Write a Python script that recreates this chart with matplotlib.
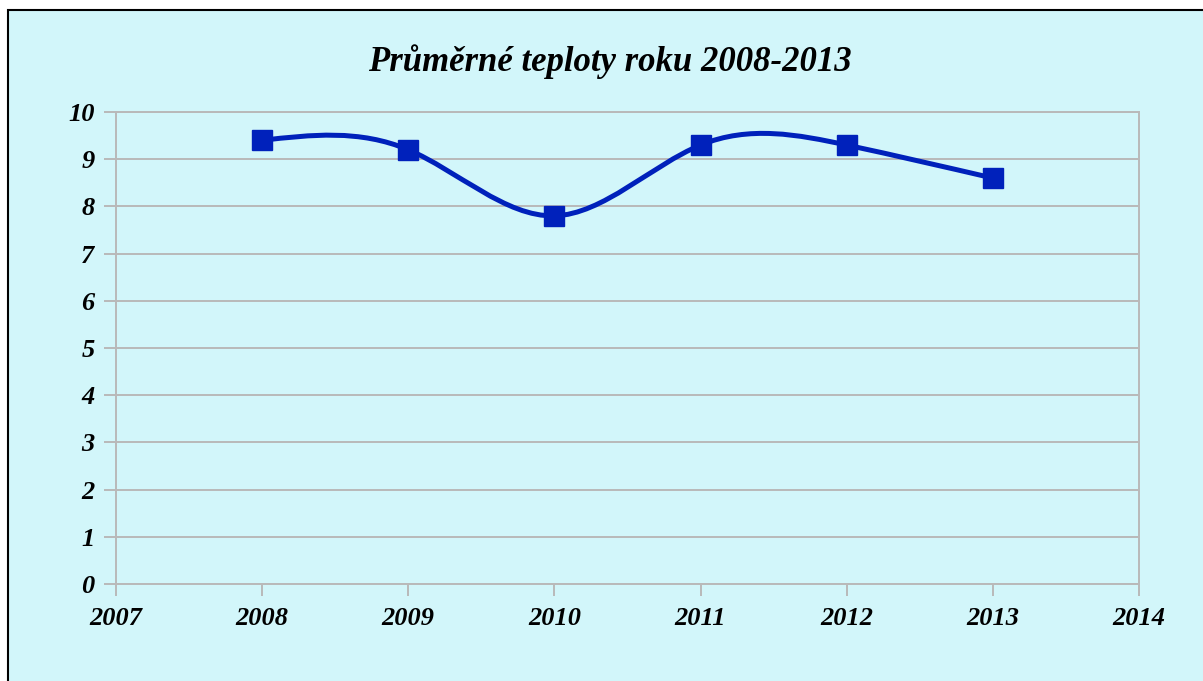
import matplotlib.pyplot as plt
import numpy as np
from matplotlib.path import Path
from matplotlib.patches import PathPatch, Rectangle

years = [2008, 2009, 2010, 2011, 2012, 2013]
temps = [9.4, 9.2, 7.8, 9.3, 9.3, 8.6]
title = "Průměrné teploty roku 2008-2013"
xticks = [2007, 2008, 2009, 2010, 2011, 2012, 2013, 2014]
yticks = [0, 1, 2, 3, 4, 5, 6, 7, 8, 9, 10]

bg = "#d2f6fa"
line_col = "#0021bb"
grid_col = "#b9b9b9"
serif = ["Liberation Serif", "DejaVu Serif"]


def spline_path(x, y):
    # natural cubic spline, as bezier segments
    x = np.asarray(x, float)
    y = np.asarray(y, float)
    n = len(x)
    h = np.diff(x)
    A = np.zeros((n, n))
    b = np.zeros(n)
    A[0, 0] = A[-1, -1] = 1
    for i in range(1, n - 1):
        A[i, i - 1] = h[i - 1]
        A[i, i] = 2 * (h[i - 1] + h[i])
        A[i, i + 1] = h[i]
        b[i] = 6 * ((y[i + 1] - y[i]) / h[i] - (y[i] - y[i - 1]) / h[i - 1])
    M = np.linalg.solve(A, b)
    verts = [(x[0], y[0])]
    codes = [Path.MOVETO]
    for i in range(n - 1):
        d0 = (y[i + 1] - y[i]) / h[i] - h[i] * (2 * M[i] + M[i + 1]) / 6
        d1 = (y[i + 1] - y[i]) / h[i] + h[i] * (M[i] + 2 * M[i + 1]) / 6
        verts += [(x[i] + h[i] / 3, y[i] + d0 * h[i] / 3),
                  (x[i + 1] - h[i] / 3, y[i + 1] - d1 * h[i] / 3),
                  (x[i + 1], y[i + 1])]
        codes += [Path.CURVE4] * 3
    return Path(verts, codes)


fig = plt.figure(figsize=(12.03, 6.81), dpi=100, facecolor="white")
fig.patches.append(Rectangle((8 / 1203, -0.1), 1.2, 1.1 - 10 / 681,
                             transform=fig.transFigure, facecolor=bg,
                             edgecolor="black", linewidth=1.5, zorder=-5))

ax = fig.add_axes([116 / 1203, 1 - 584 / 681, 1023 / 1203, 472 / 681])
ax.set_facecolor(bg)
ax.patch.set_alpha(0)

ax.add_patch(PathPatch(spline_path(years, temps), facecolor="none",
                       edgecolor=line_col, linewidth=3.6, zorder=3))
ax.plot(years, temps, linestyle="none", marker="s", markersize=15,
        color=line_col, zorder=4)

ax.set_xlim(2007, 2014)
ax.set_ylim(0, 10)
ax.set_xticks(xticks)
ax.set_yticks(yticks)
ax.grid(axis="y", color=grid_col, linewidth=1.4)
ax.set_axisbelow(True)
for s in ax.spines.values():
    s.set_color(grid_col)
    s.set_linewidth(1.4)
ax.tick_params(axis="both", length=8.5, width=1.4, color=grid_col)
ax.tick_params(axis="x", pad=8)
ax.tick_params(axis="y", pad=7)
for lab in ax.get_xticklabels() + ax.get_yticklabels():
    lab.set_family(serif)
    lab.set_fontsize(19)
    lab.set_fontweight("bold")
    lab.set_fontstyle("italic")

fig.text(610 / 1203, 1 - 62 / 681, title, ha="center", va="center",
         family=serif, fontsize=25, fontweight="bold", fontstyle="italic")

fig.savefig("out.png", dpi=100, facecolor="white")
